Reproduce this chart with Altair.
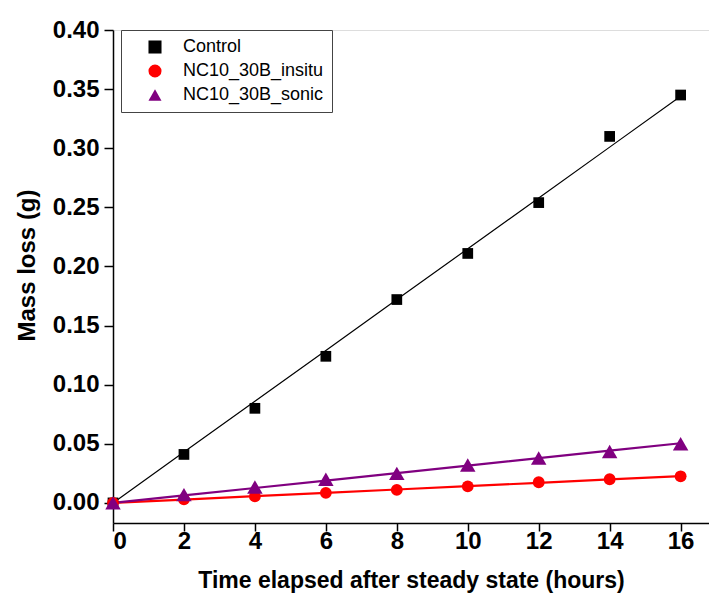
import altair as alt
import pandas as pd

hours = [0, 2, 4, 6, 8, 10, 12, 14, 16]
control = [0.0, 0.041, 0.080, 0.124, 0.172, 0.211, 0.254, 0.310, 0.345]
insitu = [0.0, 0.003, 0.0055, 0.0085, 0.011, 0.014, 0.0175, 0.020, 0.0225]
sonic = [0.0, 0.007, 0.0135, 0.020, 0.025, 0.032, 0.038, 0.0435, 0.050]
series = ["Control", "NC10_30B_insitu", "NC10_30B_sonic"]
colors = ["#000000", "#FF0000", "#800080"]
shapes = ["square", "circle", "triangle-up"]
marker_sizes = [115, 140, 240]
line_widths = [1.2, 2.2, 2.2]

rows = []
for name, vals in zip(series, [control, insitu, sonic]):
    for h, v in zip(hours, vals):
        rows.append({"hours": h, "loss": v, "series": name})
df = pd.DataFrame(rows)

FONT = "Liberation Sans"

x_scale = alt.Scale(domain=[0, 16.8], nice=False)
y_scale = alt.Scale(domain=[-0.017, 0.40], nice=False)

x_axis = alt.Axis(
    values=list(range(0, 17)),
    labelExpr="datum.value % 2 == 0 ? datum.label : ''",
    tickSize={"expr": "datum.value % 2 == 0 ? 8 : 5"},
    title="Time elapsed after steady state (hours)",
    titleFont=FONT, titleFontSize=23, titleFontWeight="bold", titleColor="black",
    titleY=46,
    labelFont=FONT, labelFontSize=24, labelFontWeight="bold", labelColor="black",
    labelPadding=-2, grid=False, domainColor="black", domainWidth=1.5,
    tickColor="black", tickWidth=1.5,
)
y_vals = [round(i * 0.025, 3) for i in range(0, 17)]
y_axis = alt.Axis(
    values=y_vals,
    labelExpr="abs(datum.value*20 - round(datum.value*20)) < 0.01 ? format(datum.value, '.2f') : ''",
    tickSize={"expr": "abs(datum.value*20 - round(datum.value*20)) < 0.01 ? 9 : 5"},
    title="Mass loss (g)",
    titleFont=FONT, titleFontSize=24, titleFontWeight="bold", titleColor="black",
    titleX=-74, titleY=235,
    labelFont=FONT, labelFontSize=24, labelFontWeight="bold", labelColor="black",
    labelPadding=5, grid=False, domainColor="black", domainWidth=1.5,
    tickColor="black", tickWidth=1.5,
)

color_scale = alt.Scale(domain=series, range=colors)
shape_scale = alt.Scale(domain=series, range=shapes)

legend = alt.Legend(title=None, orient="none", legendX=8, legendY=0,
                    labelFont=FONT, labelFontSize=18, labelColor="black",
                    strokeColor="#444444", padding=8, rowPadding=6,
                    symbolOffset=17, labelOffset=19, symbolSize=170,
                    fillColor="white")

base = alt.Chart(df)

fit = base.transform_calculate(
    xy="datum.hours * datum.loss", xx="datum.hours * datum.hours"
).transform_joinaggregate(
    sxy="sum(xy)", sxx="sum(xx)", groupby=["series"]
).transform_calculate(
    fit="datum.hours * datum.sxy / datum.sxx"
)

lines = []
for i, (name, col, lw) in enumerate(zip(series, colors, line_widths)):
    if i == 0:
        xenc = alt.X("hours:Q", scale=x_scale, axis=x_axis)
        yenc = alt.Y("fit:Q", scale=y_scale, axis=y_axis)
    else:
        xenc = alt.X("hours:Q", scale=x_scale)
        yenc = alt.Y("fit:Q", scale=y_scale)
    lines.append(
        fit.transform_filter(alt.datum.series == name)
        .mark_line(strokeWidth=lw, color=col)
        .encode(x=xenc, y=yenc)
    )

pts = []
for name, sz in zip(series, marker_sizes):
    pts.append(
        base.transform_filter(alt.datum.series == name)
        .mark_point(filled=True, opacity=1, size=sz)
        .encode(
            x=alt.X("hours:Q", scale=x_scale),
            y=alt.Y("loss:Q", scale=y_scale),
            color=alt.Color("series:N", scale=color_scale, sort=series, legend=legend),
            shape=alt.Shape("series:N", scale=shape_scale, sort=series, legend=legend),
        )
    )

chart = alt.layer(*lines, *pts).properties(
    width=596, height=493,
    autosize=alt.AutoSizeParams(type="none"),
    padding={"left": 113, "top": 30, "right": 0, "bottom": 76},
).configure_view(stroke=None).configure(background="white")

chart.save("out.html", embed_options={"renderer": "svg", "actions": False})
